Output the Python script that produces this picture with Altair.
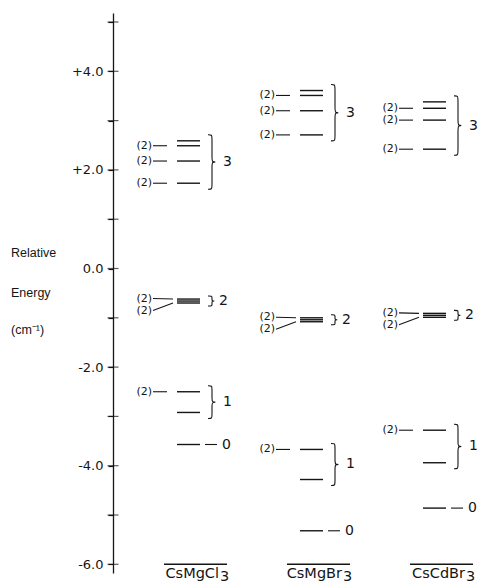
import altair as alt
import pandas as pd

# ---- data ---------------------------------------------------------------
compounds = ["CsMgCl3", "CsMgBr3", "CsCdBr3"]
formula_main = ["CsMgCl", "CsMgBr", "CsCdBr"]
formula_sub = ["3", "3", "3"]

# level energies (cm-1), highest first inside each spin manifold
s3_energy = [[2.59, 2.49, 2.18, 1.73],
             [3.61, 3.51, 3.20, 2.71],
             [3.38, 3.25, 3.01, 2.42]]
s2_energy = [[-0.62, -0.66, -0.70],
             [-1.00, -1.04, -1.08],
             [-0.91, -0.95, -0.99]]
s1_energy = [[-2.50, -2.92],
             [-3.67, -4.28],
             [-3.28, -3.94]]
s0_energy = [-3.57, -5.32, -4.86]

s3_degeneracy = [1, 2, 2, 2]
s2_degeneracy = [2, 2, 1]
s1_degeneracy = [2, 1]

energy_ticks = [-6, -5, -4, -3, -2, -1, 0, 1, 2, 3, 4, 5]
axis_title_lines = ["Relative", "Energy", "(cm⁻¹)"]

# ---- layout (pixels) ----------------------------------------------------
W, H = 481, 585
AX = 113                 # x of the energy axis
TOP, BOT = 13, 573       # vertical extent of the axis line
PX_PER_UNIT = 49.3
ZERO_Y = 268.5
col_left = [177, 300, 423]   # left end of the level lines of each column
LINE_LEN = 23
title_rows = [253, 293, 330]
INK = "#151515"
NUM_FONT = "DejaVu Sans"
WORD_FONT = "Liberation Sans"


def energy_at(py):
    return (ZERO_Y - py) / PX_PER_UNIT


PX = 1 / PX_PER_UNIT   # one pixel expressed in energy units

xs = alt.Scale(domain=[AX, W], nice=False, zero=False)
ys = alt.Scale(domain=[energy_at(BOT), energy_at(TOP)], nice=False, zero=False)

energy_axis = alt.Axis(
    values=energy_ticks,
    labelExpr=("datum.value % 2 === 0 ? "
               "(datum.value > 0 ? '+' : (datum.value < 0 ? '-' : '')) "
               "+ format(abs(datum.value), '.1f') : ''"),
    title=None, grid=False,
    domainColor=INK, domainWidth=1.3,
    ticks=True, tickSize=5, tickColor=INK, tickWidth=1.2,
    labelFont=NUM_FONT, labelFontSize=13, labelColor=INK,
    labelPadding=5, labelOverlap=False, labelFlush=False,
)


def X(f):
    return alt.X(f, type="quantitative", scale=xs, axis=None)


def Y(f):
    # every layer shares the same energy scale and the same axis definition
    return alt.Y(f, type="quantitative", scale=ys, axis=energy_axis)


# ---- build the mark tables ---------------------------------------------
lev, lab, lead, brace, glab = [], [], [], [], []
for ci, name in enumerate(compounds):
    L = col_left[ci]
    manifolds = [(3, s3_energy[ci], s3_degeneracy),
                 (2, s2_energy[ci], s2_degeneracy),
                 (1, s1_energy[ci], s1_degeneracy),
                 (0, [s0_energy[ci]], [1])]
    for S, es, gs in manifolds:
        for e, g in zip(es, gs):
            lev.append(dict(c=name, S=S, e=e, x1=L, x2=L + LINE_LEN))
            if g == 2 and S != 2:
                lab.append(dict(x=L - 25, e=e, t="(2)"))
                lead.append(dict(x1=L - 24, x2=L - 10, e1=e, e2=e))
        if S == 2:
            mid = sum(es) / len(es)
            for ly, target in [(mid + 2.5 * PX, max(es)), (mid - 9.5 * PX, min(es))]:
                lab.append(dict(x=L - 25, e=ly, t="(2)"))
                lead.append(dict(x1=L - 24, x2=L - 4, e1=ly, e2=target))
        if S > 0:
            pad = (3 if S == 2 else 6) * PX
            top, bot = max(es) + pad, min(es) - pad
            mid = (top + bot) / 2
            q = min(3 * PX, (top - bot) * 0.15)
            depth = 3.5 if S == 2 else 5
            x0 = L + 31
            pts = [(x0, top), (x0 + 4, top), (x0 + 4, top - q),
                   (x0 + 4, mid + q), (x0 + 4, mid), (x0 + 4 + depth, mid),
                   (x0 + 4, mid), (x0 + 4, mid - q), (x0 + 4, bot + q),
                   (x0 + 4, bot), (x0, bot)]
            for i, (px, pe) in enumerate(pts):
                brace.append(dict(key=f"{name}-{S}", i=i, x=px, e=pe))
            glab.append(dict(x=L + (42 if S == 2 else 46), e=mid, t=str(S)))
        else:
            lead.append(dict(x1=L + 28, x2=L + 40, e1=es[0], e2=es[0]))
            glab.append(dict(x=L + 45, e=es[0], t="0"))

levels = pd.DataFrame(lev)
labels = pd.DataFrame(lab)
leaders = pd.DataFrame(lead)
braces = pd.DataFrame(brace)
group_labels = pd.DataFrame(glab)

bases = pd.DataFrame({
    "x1": [L - 13 for L in col_left],
    "x2": [L + 50 for L in col_left],
    "e": [-6.0] * len(col_left),
    "xm": [L + 42 for L in col_left],
    "xs": [L + 43 for L in col_left],
    "em": [energy_at(578)] * len(col_left),
    "es": [energy_at(581)] * len(col_left),
    "main": formula_main,
    "sub": formula_sub,
})

titles = pd.DataFrame({"t": axis_title_lines,
                       "x": [11] * len(axis_title_lines),
                       "e": [energy_at(p) for p in title_rows]})
ticks = pd.DataFrame({"v": energy_ticks})

# ---- layers ------------------------------------------------------------
axis_layer = alt.Chart(ticks).mark_tick(
    orient="horizontal", size=11, thickness=1.2, color=INK
).encode(x=alt.value(0), y=Y("v"))

title_layer = alt.Chart(titles).mark_text(
    align="left", baseline="middle", font=WORD_FONT, fontSize=12.5, color=INK
).encode(x=X("x"), y=Y("e"), text="t:N")

level_layer = alt.Chart(levels).mark_rule(strokeWidth=1.4, color=INK).encode(
    x=X("x1"), x2="x2:Q", y=Y("e"))

leader_layer = alt.Chart(leaders).mark_rule(strokeWidth=1.1, color=INK).encode(
    x=X("x1"), x2="x2:Q", y=Y("e1"), y2="e2:Q")

label_layer = alt.Chart(labels).mark_text(
    align="right", baseline="middle", font=NUM_FONT, fontSize=11, color=INK
).encode(x=X("x"), y=Y("e"), text="t:N")

brace_layer = alt.Chart(braces).mark_line(
    interpolate="basis", strokeWidth=1.1, color=INK
).encode(x=X("x"), y=Y("e"), detail="key:N", order="i:Q")

group_layer = alt.Chart(group_labels).mark_text(
    align="left", baseline="middle", font=NUM_FONT, fontSize=14, color=INK
).encode(x=X("x"), y=Y("e"), text="t:N")

base_rule = alt.Chart(bases).mark_rule(strokeWidth=1.4, color=INK).encode(
    x=X("x1"), x2="x2:Q", y=Y("e"))

base_main = alt.Chart(bases).mark_text(
    align="right", baseline="alphabetic", font=NUM_FONT, fontSize=14.5, color=INK
).encode(x=X("xm"), y=Y("em"), text="main:N")

base_sub = alt.Chart(bases).mark_text(
    align="left", baseline="alphabetic", font=NUM_FONT, fontSize=14.5, color=INK
).encode(x=X("xs"), y=Y("es"), text="sub:N")

chart = alt.layer(
    axis_layer, title_layer, level_layer, leader_layer, label_layer,
    brace_layer, group_layer, base_rule, base_main, base_sub,
).properties(
    width=W - AX, height=BOT - TOP,
    padding={"left": AX, "top": TOP, "right": 0, "bottom": H - BOT},
    autosize=alt.AutoSizeParams(type="none"),
    background="white",
).configure_view(stroke=None)

chart.save("out.html", embed_options={"renderer": "svg", "actions": False})
